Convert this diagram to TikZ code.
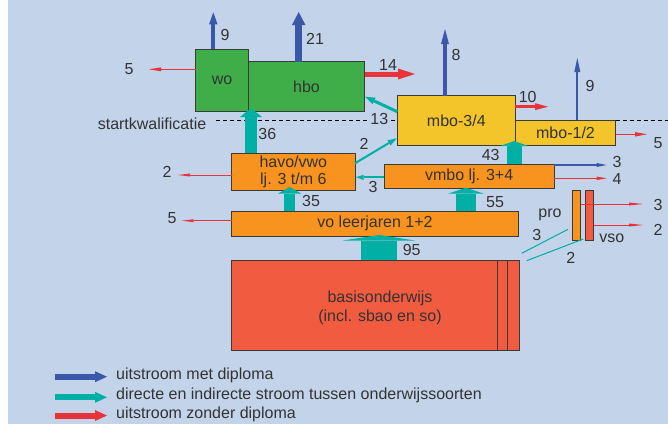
\documentclass[tikz,border=0pt]{standalone}
\usepackage{fontspec}
\setmainfont{Liberation Sans}
\usetikzlibrary{arrows.meta}
\definecolor{bg}{HTML}{C3D3EA}
\definecolor{boxgreen}{HTML}{3FAE49}
\definecolor{boxyellow}{HTML}{F3C52A}
\definecolor{boxorange}{HTML}{F7931E}
\definecolor{boxred}{HTML}{F15B40}
\definecolor{flowteal}{HTML}{00B0A5}
\definecolor{flowblue}{HTML}{3B57A7}
\definecolor{flowred}{HTML}{E8333A}
\definecolor{txt}{HTML}{333333}
\definecolor{boxline}{HTML}{3A3A3A}
\newcommand\figfont{\fontsize{16}{18}\selectfont}
\begin{document}
\begin{tikzpicture}[x=1pt,y=-1pt,
  box/.style={draw=boxline,line width=0.8pt,inner sep=0pt,outer sep=0pt,text=txt,font=\figfont,align=center},
  lbl/.style={text=txt,font=\figfont,inner sep=0pt,align=center},
  flow/.style n args={4}{draw=#1,line width=#2,-{Triangle[width=#3,length=#4,line width=0pt]}},
  divider/.style={draw=black,line width=0.8pt,dash pattern=on 4pt off 3pt},
]
\useasboundingbox (0,0) rectangle (668,424);
\fill[white] (0,0) rectangle (668,424);
\fill[bg] (8,0) rectangle (668,424);

% boxes
\node[box,fill=boxgreen,minimum width=52.6pt,minimum height=62.4pt] (wo) at (222,80.5) {wo};
\node[box,fill=boxgreen,minimum width=116.4pt,minimum height=50pt] (hbo) at (306.5,86.7) {hbo};
\node[box,fill=boxyellow,minimum width=118pt,minimum height=49.6pt] (mbo34) at (456.3,120.5) {mbo-3/4};
\node[box,fill=boxyellow,minimum width=100.4pt,minimum height=25.3pt] (mbo12) at (565.5,132.65) {mbo-1/2};
\node[box,fill=boxorange,minimum width=123.3pt,minimum height=37.4pt] (havo) at (293.35,172) {havo/vwo\\[-1.5pt]lj. 3 t/m 6};
\node[box,fill=boxorange,minimum width=170.3pt,minimum height=24.7pt] (vmbo) at (469.15,176.35) {vmbo lj. 3+4};
\node[box,fill=boxorange,minimum width=286.6pt,minimum height=25.7pt] (vo) at (375,223.85) {vo leerjaren 1+2};
\node[box,fill=boxorange,minimum width=8.4pt,minimum height=50pt] (pro) at (576.5,215) {};
\node[box,fill=boxred,minimum width=8.7pt,minimum height=50pt] (vso) at (589.35,215) {};
\node[box,fill=boxred,minimum width=287.6pt,minimum height=90pt] (basis) at (375.5,305) {};
\coordinate (bl1) at (497.7,305);
\coordinate (bl2) at (507.3,305);
\draw[boxline,line width=0.8pt] (bl1 |- basis.north) -- (bl1 |- basis.south);
\draw[boxline,line width=0.8pt] (bl2 |- basis.north) -- (bl2 |- basis.south);
\node[lbl] (basistxt) at (380,307.5) {basisonderwijs\\[1pt](incl. sbao en so)};
\node[lbl] (prolbl) at (550,215) {pro};
\node[lbl] (vsolbl) at (611.7,238.3) {vso};

% startkwalificatie line
\node[lbl,anchor=east] (sk) at (206.5,124) {startkwalificatie};
\coordinate (dl) at (216,120);
\coordinate (dr) at (668,120);
\draw[divider] (dl) -- (dl -| mbo34.west);
\draw[divider] (mbo12.north east) -- (dr);

% blue: uitstroom met diploma
\coordinate (b9) at (213.3,12.3);
\draw[flow={flowblue}{4pt}{8.5pt}{12pt}] (b9 |- wo.north) -- (b9);
\coordinate (b21) at (298.7,12);
\draw[flow={flowblue}{7pt}{13.5pt}{13pt}] (b21 |- hbo.north) -- (b21);
\coordinate (b8) at (445,29);
\draw[flow={flowblue}{3.5pt}{8pt}{15pt}] (b8 |- mbo34.north) -- (b8);
\coordinate (b9b) at (577.3,58);
\draw[flow={flowblue}{2pt}{6pt}{14pt}] (b9b |- mbo12.north) -- (b9b);
\coordinate (b3) at (606.7,165);
\draw[flow={flowblue}{1.2pt}{4pt}{10pt}] (b3 -| vmbo.east) -- (b3);

% red: uitstroom zonder diploma
\coordinate (r5a) at (149,69.3);
\draw[flow={flowred}{1.5pt}{4pt}{12pt}] (r5a -| wo.west) -- (r5a);
\coordinate (r14) at (415,74);
\draw[flow={flowred}{5pt}{11pt}{17pt}] (r14 -| hbo.east) -- (r14);
\coordinate (r10) at (548,106.7);
\draw[flow={flowred}{3pt}{7pt}{13pt}] (r10 -| mbo34.east) -- (r10);
\coordinate (r5b) at (647,134.3);
\draw[flow={flowred}{1.5pt}{4.5pt}{12pt}] (r5b -| mbo12.east) -- (r5b);
\coordinate (r4) at (606.7,178.3);
\draw[flow={flowred}{1.2pt}{3.5pt}{10pt}] (r4 -| vmbo.east) -- (r4);
\coordinate (r2) at (178,175);
\draw[flow={flowred}{1pt}{3pt}{12pt}] (r2 -| havo.west) -- (r2);
\coordinate (r5c) at (181.7,220.7);
\draw[flow={flowred}{1pt}{3pt}{12pt}] (r5c -| vo.west) -- (r5c);
\coordinate (r3p) at (643,204);
\draw[flow={flowred}{1pt}{3pt}{14pt}] (r3p -| pro.east) -- (r3p);
\coordinate (r2v) at (643,225);
\draw[flow={flowred}{1pt}{3pt}{14pt}] (r2v -| vso.east) -- (r2v);

% teal: stromen tussen onderwijssoorten
\coordinate (t36) at (251,108);
\draw[flow={flowteal}{12pt}{22pt}{9pt}] (t36 |- havo.north) -- (t36);
\coordinate (t35) at (289.7,187);
\draw[flow={flowteal}{11.5pt}{23pt}{6.5pt}] (t35 |- vo.north) -- (t35);
\coordinate (t55) at (466,187.7);
\draw[flow={flowteal}{20pt}{36pt}{6pt}] (t55 |- vo.north) -- (t55);
\coordinate (t43) at (514.2,141);
\draw[flow={flowteal}{15pt}{28pt}{5pt}] (t43 |- vmbo.north) -- (t43);
\coordinate (t95) at (379,235);
\draw[flow={flowteal}{36.6pt}{72pt}{5.5pt}] (t95 |- basis.north) -- (t95);
\coordinate (t13s) at (397.3,111.7);
\coordinate (t13e) at (365,96.7);
\draw[flow={flowteal}{3pt}{7pt}{10pt}] (t13s) -- (t13e);
\coordinate (t2s) at (355,163.3);
\coordinate (t2e) at (396.7,138.3);
\draw[flow={flowteal}{2pt}{6pt}{9pt}] (t2s) -- (t2e);
\coordinate (t3) at (355.5,177.3);
\draw[flow={flowteal}{2pt}{5pt}{8pt}] (t3 -| vmbo.west) -- (t3);
\coordinate (tp1) at (521.7,253.3);
\coordinate (tp2) at (568,229.3);
\draw[flowteal,line width=1pt] (tp1) -- (tp2);
\coordinate (tv1) at (526.7,260.7);
\coordinate (tv2) at (583.3,239);
\draw[flowteal,line width=1pt] (tv1) -- (tv2);

% numbers
\node[lbl] (n9a) at (225,35) {9};
\node[lbl] (n21) at (315,39) {21};
\node[lbl] (n5a) at (129,69) {5};
\node[lbl] (n14) at (388,65) {14};
\node[lbl] (n8) at (456,55) {8};
\node[lbl] (n10) at (527.7,97) {10};
\node[lbl] (n9b) at (590,85.7) {9};
\node[lbl] (n5b) at (658,143) {5};
\node[lbl,fill=bg,inner sep=1pt] (n13) at (379.3,119) {13};
\node[lbl] (n36) at (267.3,134) {36};
\node[lbl] (n2a) at (364,144) {2};
\node[lbl] (n2b) at (167,172) {2};
\node[lbl] (n3a) at (373,186.7) {3};
\node[lbl] (n43) at (490.7,155) {43};
\node[lbl] (n3b) at (617,161.7) {3};
\node[lbl] (n4) at (617,179) {4};
\node[lbl] (n35) at (311,201) {35};
\node[lbl] (n55) at (495,201.7) {55};
\node[lbl] (n5c) at (172,218) {5};
\node[lbl] (n3c) at (658,205) {3};
\node[lbl] (n2c) at (658,230) {2};
\node[lbl] (n3d) at (536.7,235) {3};
\node[lbl] (n2d) at (570.7,258.3) {2};
\node[lbl] (n95) at (411.7,250) {95};

% legend
\coordinate (la1) at (55,376.7);  \coordinate (lb1) at (107,376.7);
\coordinate (la2) at (55,397.3);  \coordinate (lb2) at (107,397.3);
\coordinate (la3) at (55,415.5);  \coordinate (lb3) at (107,415.5);
\draw[flow={flowblue}{6pt}{11pt}{12pt}] (la1) -- (lb1);
\draw[flow={flowteal}{6pt}{11pt}{12pt}] (la2) -- (lb2);
\draw[flow={flowred}{6pt}{11pt}{12pt}] (la3) -- (lb3);
\node[lbl,anchor=west] (lt1) at (116,375.5) {uitstroom met diploma};
\node[lbl,anchor=west] (lt2) at (116,395.5) {directe en indirecte stroom tussen onderwijssoorten};
\node[lbl,anchor=west] (lt3) at (116,414) {uitstroom zonder diploma};
\end{tikzpicture}
\end{document}
